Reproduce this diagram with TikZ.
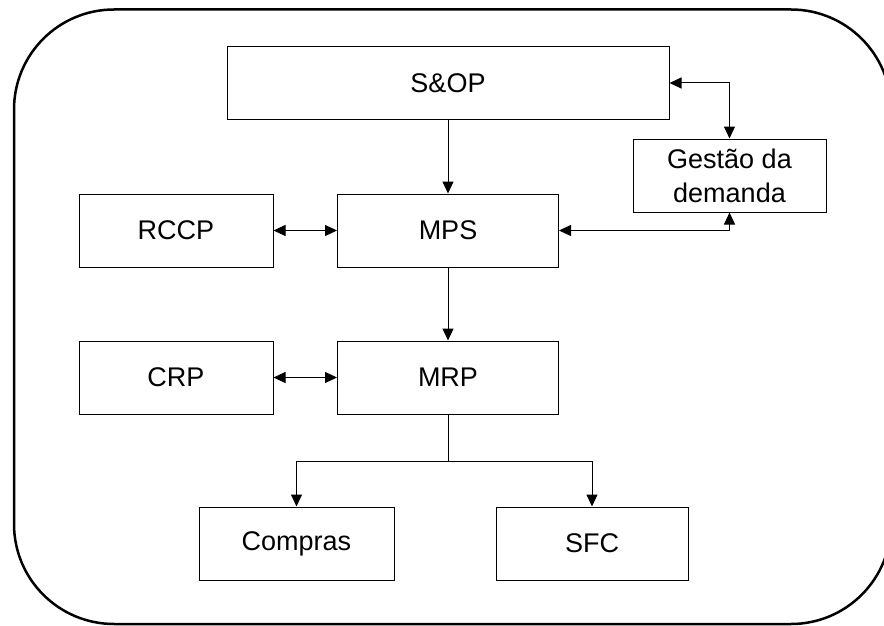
\documentclass[tikz,border=0pt]{standalone}
\usepackage{fontspec}
\setmainfont{Liberation Sans}
\usetikzlibrary{arrows.meta,calc}
\begin{document}
\begin{tikzpicture}[x=1pt,y=-1pt,
  box/.style={draw,line width=1pt,inner sep=0pt,align=center,
    font=\fontsize{27}{34}\selectfont,minimum height=73pt},
  link/.style={line width=1pt,-{Triangle[length=12pt,width=11pt]}},
  link2/.style={line width=1pt,{Triangle[length=12pt,width=11pt]}-{Triangle[length=12pt,width=11pt]}}]
\useasboundingbox (0,0) rectangle (884,626);
% outer frame
\draw[line width=2.5pt,rounded corners=100pt] (14,9.5) rectangle (891,624);
% blocks
\node[box,minimum width=442pt,minimum height=72pt] (sop) at (448,83) {S\&OP};
\node[box,minimum width=193pt] (gd) at (729.5,175.5) {Gestão da\\demanda};
\node[box,minimum width=194pt] (rccp) at (176,230.5) {RCCP};
\node[box,minimum width=221pt] (mps) at (448,230.5) {MPS};
\node[box,minimum width=194pt] (crp) at (176,377.5) {CRP};
\node[box,minimum width=221pt] (mrp) at (448,377.5) {MRP};
\node[box,minimum width=195pt] (compras) at (296.5,543.5) {Compras};
\node[box,minimum width=192pt] (sfc) at (592,543.5) {SFC};
% connectors
\draw[link] (sop) -- (mps);
\draw[link2] (sop.east) -| (gd.north);
\draw[link2] (mps.east) -| (gd.south);
\draw[link2] (rccp) -- (mps);
\draw[link] (mps) -- (mrp);
\draw[link2] (crp) -- (mrp);
\coordinate (split) at ($(mrp.south)+(0,47)$);
\draw[line width=1pt] (mrp.south) -- (split);
\draw[link] (split) -| (compras.north);
\draw[link] (split) -| (sfc.north);
\end{tikzpicture}
\end{document}
